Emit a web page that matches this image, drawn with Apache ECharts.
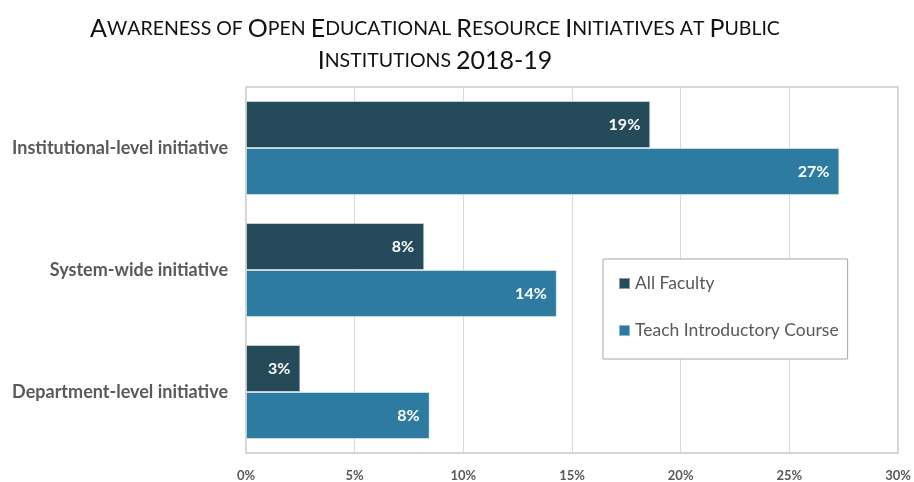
<!DOCTYPE html>
<html>
<head>
<meta charset="utf-8">
<script src="https://cdn.jsdelivr.net/npm/echarts@6/dist/echarts.min.js"></script>
<style>
  html, body { margin: 0; padding: 0; background: #fff; }
  #chart { width: 914px; height: 482px; }
</style>
</head>
<body>
<div id="chart"></div>
<script>
// data (percent)
const categories = ['Institutional-level initiative', 'System-wide initiative', 'Department-level initiative']
const seriesNames = ['All Faculty', 'Teach Introductory Course']
const allFaculty = [18.6, 8.2, 2.5]
const teachIntro = [27.3, 14.3, 8.45]
const xTicks = [0, 5, 10, 15, 20, 25, 30]

const titleText = 'Awareness of Open Educational Resource Initiatives at Public\nInstitutions 2018-19'

// fake small caps with rich text: capitals/digits big, lowercase as small capitals
function smallCaps(str) {
  let out = ''
  for (const ch of str) {
    if (ch === '\n') { out += '\n'; continue }
    if (ch === ' ') { out += '{s| }'; continue }
    if (ch !== ch.toUpperCase()) out += '{s|' + ch.toUpperCase() + '}'
    else out += '{b|' + ch + '}'
  }
  return out
}

const font = 'Lato, "Open Sans", sans-serif'
const chart = echarts.init(document.getElementById('chart'))

const barLabel = {
  show: true,
  position: 'insideRight',
  distance: 10,
  formatter: p => Math.round(p.value) + '%',
  fontFamily: font,
  fontWeight: 'bold',
  fontSize: 16,
  color: '#fff'
}

chart.setOption({
  backgroundColor: '#fff',
  animation: false,
  title: {
    text: smallCaps(titleText),
    left: 430,
    textAlign: 'center',
    top: 8,
    textStyle: {
      fontWeight: 'normal',
      rich: {
        b: { fontFamily: font, fontWeight: 'normal', fontSize: 25, color: '#111', lineHeight: 32 },
        s: { fontFamily: font, fontWeight: 'normal', fontSize: 19.5, color: '#111', lineHeight: 32 }
      }
    }
  },
  legend: {
    orient: 'vertical',
    left: 603,
    top: 259,
    padding: [14, 9, 18, 15],
    itemGap: 26,
    itemWidth: 11,
    itemHeight: 11,
    icon: 'rect',
    borderColor: '#a6a6a6',
    borderWidth: 1,
    backgroundColor: '#fff',
    data: seriesNames,
    textStyle: { fontFamily: font, fontSize: 17.5, color: '#595959', lineHeight: 21 }
  },
  grid: {
    left: 246,
    right: 16,
    top: 87,
    bottom: 29,
    show: true,
    borderColor: '#c8c8c8',
    borderWidth: 1.5
  },
  xAxis: {
    type: 'value',
    min: xTicks[0],
    max: xTicks[xTicks.length - 1],
    interval: 5,
    axisLine: { show: false },
    axisTick: { show: false },
    splitLine: { lineStyle: { color: '#d9d9d9', width: 1 } },
    axisLabel: {
      formatter: '{value}%',
      margin: 16,
      fontFamily: font,
      fontWeight: 'bold',
      fontSize: 13,
      color: '#595959'
    }
  },
  yAxis: {
    type: 'category',
    inverse: true,
    data: categories,
    axisLine: { show: false },
    axisTick: { show: false },
    axisLabel: {
      margin: 18,
      fontFamily: font,
      fontWeight: 'bold',
      fontSize: 18,
      color: '#595959'
    }
  },
  series: [
    {
      name: seriesNames[0],
      type: 'bar',
      data: allFaculty,
      barGap: '0%',
      barCategoryGap: '23%',
      itemStyle: { color: '#254a5a', borderColor: 'rgba(255,255,255,0.45)', borderWidth: 1 },
      label: barLabel
    },
    {
      name: seriesNames[1],
      type: 'bar',
      data: teachIntro,
      barGap: '0%',
      barCategoryGap: '23%',
      itemStyle: { color: '#2d7ba0', borderColor: 'rgba(255,255,255,0.45)', borderWidth: 1 },
      label: barLabel
    }
  ]
})
</script>
</body>
</html>
